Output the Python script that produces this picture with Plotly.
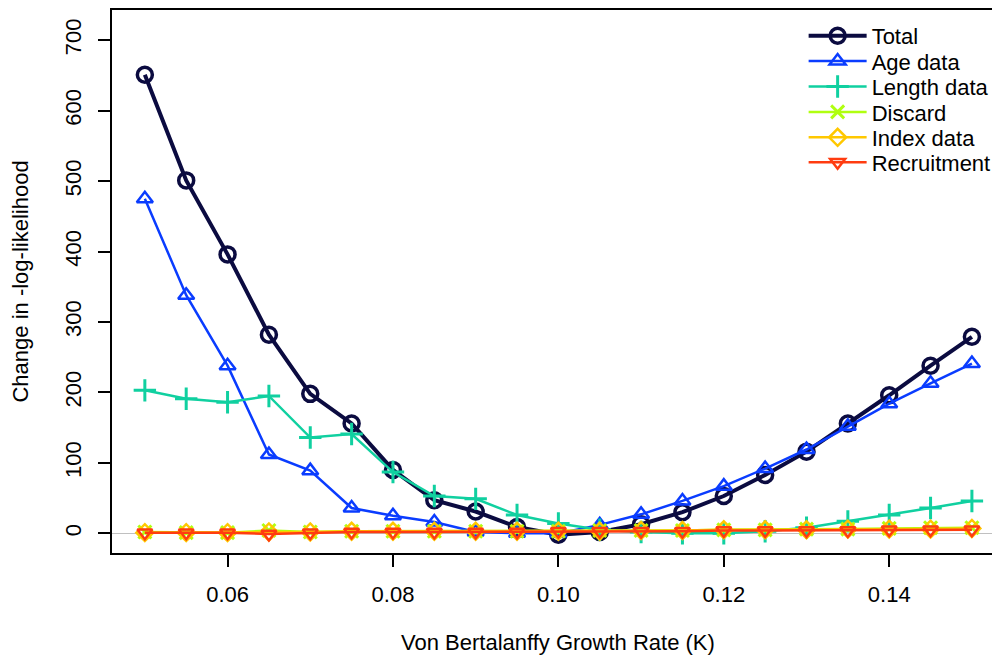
import plotly.graph_objects as go

k_values = [0.05, 0.055, 0.06, 0.065, 0.07, 0.075, 0.08, 0.085, 0.09, 0.095, 0.10,
            0.105, 0.11, 0.115, 0.12, 0.125, 0.13, 0.135, 0.14, 0.145, 0.15]

total = [651, 501, 396, 282, 198, 156, 90, 47, 31, 9, -2,
         2, 13, 30, 53, 83, 116, 156, 196, 238, 279]
age_data = [475, 338, 238, 112, 89, 36, 25, 16, 2, 0, 0,
            12, 27, 46, 67, 92, 119, 152, 184, 213, 241]
length_data = [203, 191, 186, 195, 136, 141, 87, 53, 49, 26, 14,
               5, 2, 0, 0, 3, 8, 17, 26, 36, 46]
discard = [2, 1, 1, 4, 2, 3, 3, 3, 3, 3, 3,
           4, 4, 4, 5, 5, 6, 6, 7, 8, 8]
index_data = [1, 1, 1, 2, 2, 3, 3, 3, 3, 3, 3,
              3, 4, 4, 5, 5, 5, 6, 6, 6, 7]
recruitment = [1, 1, 1, -1, 1, 2, 2, 2, 2, 2, 3,
               3, 3, 3, 4, 4, 4, 4, 5, 5, 5]

y_ticks = [0, 100, 200, 300, 400, 500, 600, 700]
x_ticks = [0.06, 0.08, 0.10, 0.12, 0.14]
x_tick_labels = ["0.06", "0.08", "0.10", "0.12", "0.14"]

FONT = "Liberation Sans, Arial, sans-serif"

series = [
    ("Total", total, "#0b0b40", 4, "circle-open", 15, 3.5),
    ("Age data", age_data, "#0a3cff", 2.5, "triangle-up-open", 14, 2.5),
    ("Length data", length_data, "#10d0a0", 2.5, "cross-thin-open", 16, 3),
    ("Discard", discard, "#b0ff10", 2.5, "x-thin-open", 13, 3),
    ("Index data", index_data, "#ffc800", 2.5, "diamond-open", 13, 2.5),
    ("Recruitment", recruitment, "#ff3c10", 2.5, "triangle-down-open", 13, 2.5),
]

# page body has an 8px margin; figure coords = screen coords - 8
PLOT_H = 545
legend_rows_fig = [26, 51.5, 77, 102.5, 128, 153]
legend_names = ["legend", "legend2", "legend3", "legend4", "legend5", "legend6"]

fig = go.Figure()
for i, (name, vals, color, lw, sym, msize, mlw) in enumerate(series):
    fig.add_trace(go.Scatter(
        x=k_values, y=vals, name=name, mode="lines+markers",
        line=dict(color=color, width=lw),
        marker=dict(symbol=sym, size=msize, color=color,
                    line=dict(color=color, width=mlw)),
        legend=legend_names[i],
    ))

legend_layout = {}
for i, ln in enumerate(legend_names):
    legend_layout[ln] = dict(
        x=0.7745, y=(PLOT_H - legend_rows_fig[i]) / PLOT_H,
        xanchor="left", yanchor="middle",
        bgcolor="rgba(0,0,0,0)", font=dict(size=22, family=FONT, color="black"),
        itemwidth=58,
    )

fig.update_layout(
    width=1000, height=658,
    margin=dict(l=104, r=3, t=0, b=113),
    paper_bgcolor="white", plot_bgcolor="white",
    font=dict(family=FONT, size=22, color="black"),
    showlegend=True,
    xaxis=dict(range=[0.046028, 0.154001], tickvals=x_ticks, ticktext=x_tick_labels,
               showgrid=False, zeroline=False, showline=True, mirror=True,
               linecolor="black", linewidth=1.5, ticks="outside", ticklen=12,
               tickwidth=1.5, tickcolor="black", tickfont=dict(size=22),
               ticklabelstandoff=9),
    yaxis=dict(range=[-27.9, 742.9], tickvals=y_ticks, tickangle=-90,
               showgrid=False, zeroline=True, zerolinecolor="#c0c0c0", zerolinewidth=1,
               showline=True, linecolor="black", linewidth=1.5, ticks="outside",
               ticklen=12, tickwidth=1.5, tickcolor="black", tickfont=dict(size=22),
               ticklabelstandoff=8),
    annotations=[
        dict(text="Von Bertalanffy Growth Rate (K)", xref="paper", yref="paper",
             x=0.4994, y=-0.1651, xanchor="center", yanchor="middle", showarrow=False,
             font=dict(size=22)),
        dict(text="Change in -log-likelihood", xref="paper", yref="paper",
             x=-0.1030, y=0.5, xanchor="center", yanchor="middle", showarrow=False,
             textangle=-90, font=dict(size=22)),
    ],
    **legend_layout,
)

fig.write_html("out.html")
